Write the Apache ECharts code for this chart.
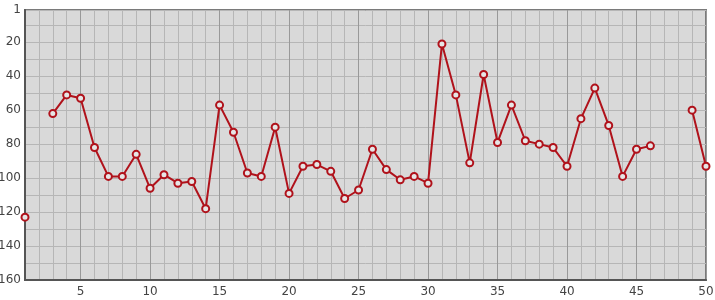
<!DOCTYPE html>
<html>
<head>
<meta charset="utf-8">
<script src="https://cdn.jsdelivr.net/npm/echarts@6/dist/echarts.min.js"></script>
<style>html,body{margin:0;padding:0;background:#fff;}#c{width:715px;height:300px;}</style>
</head>
<body>
<div id="c"></div>
<script>
var xValues = [1,2,3,4,5,6,7,8,9,10,11,12,13,14,15,16,17,18,19,20,21,22,23,24,25,26,27,28,29,30,31,32,33,34,35,36,37,38,39,40,41,42,43,44,45,46,47,48,49,50];
var rankValues = [123,null,62,51,53,82,99,99,86,106,98,103,102,118,57,73,97,99,70,109,93,92,96,112,107,83,95,101,99,103,21,51,91,39,79,57,78,80,82,93,65,47,69,99,83,81,null,null,60,93];
var yMin = 1, yMax = 160, yStep = 20;
var xMin = 1, xMax = 50, xLabelStep = 5;

var seriesData = xValues.map(function (x, i) {
  return [x, rankValues[i] === null ? '-' : rankValues[i]];
});

var chart = echarts.init(document.getElementById('c'));
chart.setOption({
  animation: false,
  grid: {
    left: 25, right: 9, top: 10, bottom: 20,
    outerBoundsMode: 'none',
    containLabel: false,
    show: true,
    backgroundColor: '#d9d9d9',
    borderColor: '#7a7a7a',
    borderWidth: 2
  },
  xAxis: {
    type: 'value',
    min: xMin, max: xMax, interval: 1,
    axisLine: { show: true, onZero: false, lineStyle: { color: '#555', width: 2 } },
    axisTick: { show: false },
    axisLabel: {
      color: '#444', fontSize: 12, fontFamily: 'DejaVu Sans', margin: 6,
      formatter: function (v) { return v % xLabelStep === 0 ? String(v) : ''; }
    },
    splitLine: { show: true, lineStyle: { color: ['#b6b6b6','#b6b6b6','#b6b6b6','#b6b6b6','#999999'], width: 1 } }
  },
  yAxis: {
    type: 'value',
    inverse: true,
    min: yMin, max: yMax,
    minInterval: yStep, maxInterval: yStep, splitNumber: 8,
    axisLine: { show: true, onZero: false, lineStyle: { color: '#555', width: 2 } },
    axisTick: { show: false },
    axisLabel: { color: '#444', fontSize: 12, fontFamily: 'DejaVu Sans', margin: 4 },
    splitLine: { show: true, lineStyle: { color: '#b6b6b6', width: 1 } },
    minorTick: { show: true, splitNumber: 2, length: 0, lineStyle: { width: 0 } },
    minorSplitLine: { show: true, lineStyle: { color: '#b6b6b6', width: 1 } }
  },
  series: [{
    type: 'line',
    data: seriesData,
    connectNulls: false,
    symbol: 'circle',
    symbolSize: 7,
    showSymbol: true,
    lineStyle: { color: '#b0121b', width: 2 },
    itemStyle: { color: '#e6e6e6', borderColor: '#b0121b', borderWidth: 2 }
  }]
});
</script>
</body>
</html>
